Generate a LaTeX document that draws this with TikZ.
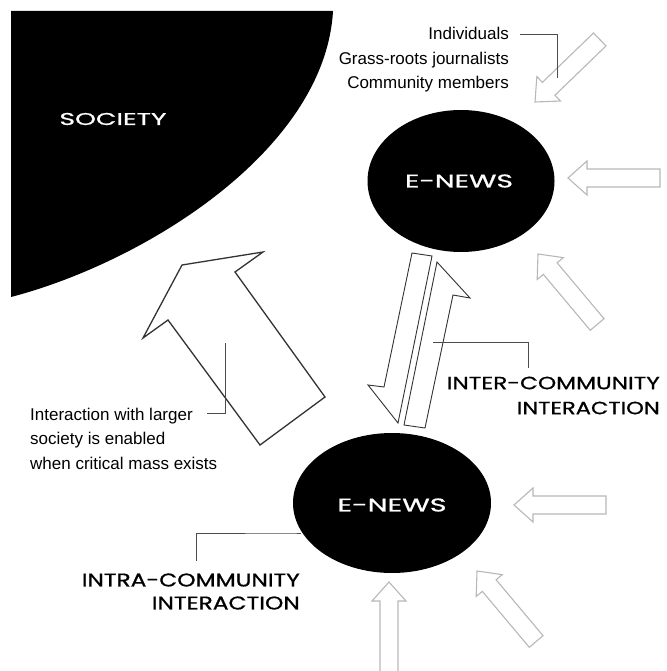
\documentclass[tikz,border=0pt]{standalone}
\usepackage{graphicx}
\usepackage{fontspec}
\setmainfont{Liberation Sans}
\newfontfamily\futfont[FakeBold=0.8]{Poppins}
\usetikzlibrary{shapes.geometric}
\definecolor{arrgray}{gray}{0.72}
\definecolor{darkline}{gray}{0.2}
\definecolor{leadgray}{gray}{0.3}
\newcommand\fut[3]{\resizebox{#1pt}{#2pt}{\futfont #3}}
\newcommand\grayarrow[4]{%
  \draw[grayarr, shift={(#1,#2)}, rotate=#3] (0,0) -- (19,-17) -- (19,-9) -- (#4,-9) -- (#4,9) -- (19,9) -- (19,17) -- cycle;}
\tikzset{
  grayarr/.style={draw=arrgray, line width=1.1pt, fill=white, line join=miter},
  darkarr/.style={draw=darkline, line width=1.3pt, line join=miter},
  thinarr/.style={draw=darkline, line width=0.9pt, line join=miter},
  lead/.style={draw=leadgray, line width=0.9pt},
  blob/.style={ellipse, fill=black, inner sep=0pt},
  whitelabel/.style={text=white, inner sep=0pt},
  blacklabel/.style={text=black, inner sep=0pt},
  plain/.style={font=\fontsize{17}{24.5}\selectfont, inner sep=0pt},
}
\begin{document}
\begin{tikzpicture}[x=1pt,y=-1pt]
\clip (0,0) rectangle (666,671);
\fill[white] (0,0) rectangle (666,671);
% society
\fill[black] (11,11) -- (333,11) .. controls (325,150) and (145,262) .. (11,297) -- cycle;
\node[whitelabel] (soc) at (113,119) {\fut{107}{12}{SOCIETY}};
% e-news blobs
\node[blob, minimum width=187pt, minimum height=142pt] (top) at (461,181) {};
\node[whitelabel] (toplbl) at (459,181) {\fut{108}{13}{E-NEWS}};
\node[blob, minimum width=198pt, minimum height=140pt] (bot) at (392,503) {};
\node[whitelabel] (botlbl) at (392,505) {\fut{109}{13}{E-NEWS}};
% gray incoming arrows
\grayarrow{535}{102}{44}{90}
\grayarrow{568}{178}{0}{92}
\grayarrow{538}{254}{-50}{92}
\grayarrow{514}{505}{0}{92}
\grayarrow{477}{571}{-50}{92}
\grayarrow{389}{582}{-90}{100}
% big arrow to society
\draw[darkarr] (143,338) -- (182,265) -- (263,252) -- (235,272) -- (325,397) -- (260,445) -- (168,320) -- cycle;
% inter-community double arrows
\draw[thinarr] (412,253) -- (432,256) -- (398,423) -- (368,385) -- (384,387) -- cycle;
\draw[thinarr] (437,262) -- (470,298) -- (453,295) -- (425,428) -- (404,425) -- cycle;
% texts
\node[plain, anchor=base east, align=right] (src) at (509,89) {Individuals\\Grass-roots journalists\\Community members};
\node[plain, anchor=base west, align=left] (soctxt) at (30,469) {Interaction with larger\\society is enabled\\when critical mass exists};
\node[blacklabel, anchor=east] (inter1) at (660,383) {\fut{213}{12.5}{INTER-COMMUNITY}};
\node[blacklabel, anchor=east] (inter2) at (660,408) {\fut{143}{12.5}{INTERACTION}};
\node[blacklabel, anchor=east] (intra1) at (300,580) {\fut{218}{13}{INTRA-COMMUNITY}};
\node[blacklabel, anchor=east] (intra2) at (300,603) {\fut{148}{13}{INTERACTION}};
% leaders
\coordinate (l1a) at (520,34);
\coordinate (l1b) at (557,78);
\draw[lead] (l1a) -| (l1b);
\coordinate (l2a) at (207,413);
\coordinate (l2b) at (225,343);
\draw[lead] (l2a) -| (l2b);
\coordinate (l3a) at (433,342);
\coordinate (l3b) at (528,368);
\draw[lead] (l3a) -| (l3b);
\coordinate (l4a) at (196,561);
\draw[lead] (l4a) |- (bot.west |- 0,533) -- ++(8,0);
\end{tikzpicture}
\end{document}
